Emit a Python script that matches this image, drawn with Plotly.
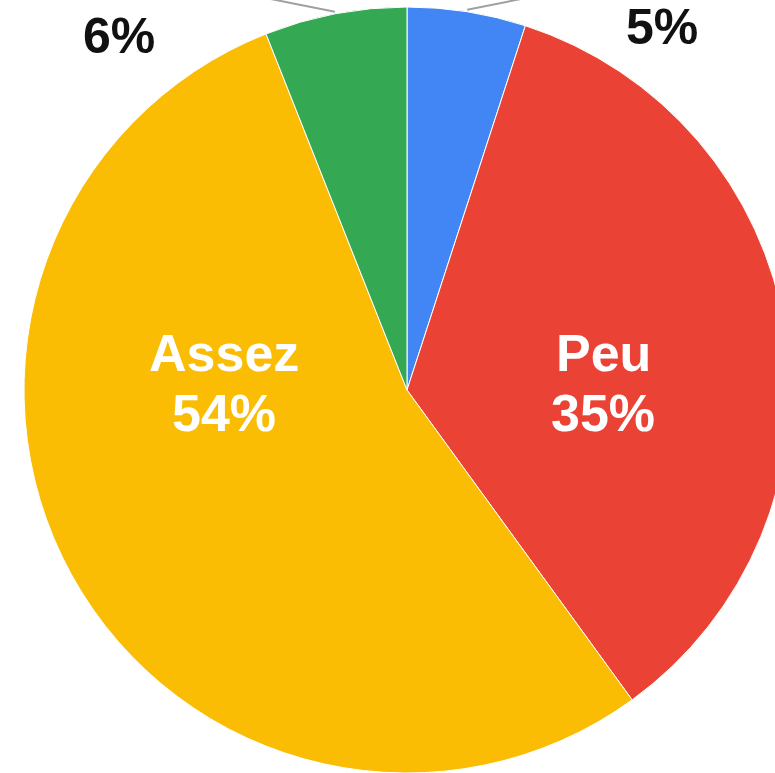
import math
import plotly.graph_objects as go

# ---- data ----
categories = ["Pas du tout", "Peu", "Assez", "Beaucoup"]
values = [5, 35, 54, 6]
colors = ["#4285F4", "#EA4335", "#FBBC04", "#34A853"]

W, H = 815, 773
CX, CY, R = 407, 390, 383  # pie centre / radius in pixels

fig = go.Figure(go.Pie(
    labels=categories,
    values=values,
    sort=False,
    direction="clockwise",
    rotation=0,
    marker=dict(colors=colors, line=dict(color="white", width=1)),
    textinfo="none",
    hoverinfo="label+percent",
    showlegend=False,
    domain=dict(x=[(CX - R) / W, (CX + R) / W], y=[(H - CY - R) / H, (H - CY + R) / H]),
))

def px(x):
    return x / W

def py(y):
    return 1 - y / H

total = sum(values)
pct = [round(100 * v / total) for v in values]

font_white = dict(family="Liberation Sans, Arial", size=52, color="white")
font_black = dict(family="Liberation Sans, Arial", size=50, color="#111111")

annotations = []
# big inside labels
inside = {1: (603, 353, 413), 2: (224, 353, 413)}
for i, (x, y1, y2) in inside.items():
    annotations.append(dict(x=px(x), y=py(y1), xref="paper", yref="paper", showarrow=False,
                            xanchor="center", yanchor="middle",
                            text=f"<b>{categories[i]}</b>", font=font_white))
    annotations.append(dict(x=px(x), y=py(y2), xref="paper", yref="paper", showarrow=False,
                            xanchor="center", yanchor="middle",
                            text=f"<b>{pct[i]}%</b>", font=font_white))
# small outside labels
outside = {0: (662, 27), 3: (119, 36)}
for i, (x, y) in outside.items():
    annotations.append(dict(x=px(x), y=py(y), xref="paper", yref="paper", showarrow=False,
                            xanchor="center", yanchor="middle",
                            text=f"<b>{pct[i]}%</b>", font=font_black))

# leader lines from slice mid-angle
shapes = []
cum = 0
for i, v in enumerate(values):
    mid = (cum + v / 2) / total * 2 * math.pi
    cum += v
    if i in outside:
        x0 = CX + (R + 2) * math.sin(mid)
        y0 = CY - (R + 2) * math.cos(mid)
        dirx = 1 if math.sin(mid) > 0 else -1
        x1 = x0 + dirx * 110
        y1 = y0 - 22
        shapes.append(dict(type="line", xref="paper", yref="paper",
                           x0=px(x0), y0=py(y0), x1=px(x1), y1=py(y1),
                           line=dict(color="#A0A0A0", width=2)))

fig.update_layout(
    width=W, height=H,
    margin=dict(l=0, r=0, t=0, b=0),
    paper_bgcolor="white",
    plot_bgcolor="white",
    annotations=annotations,
    shapes=shapes,
)

fig.write_html("out.html",
               config={"displayModeBar": False},
               post_script="document.body.style.margin='0';document.body.style.overflow='hidden';document.documentElement.style.overflow='hidden';")
